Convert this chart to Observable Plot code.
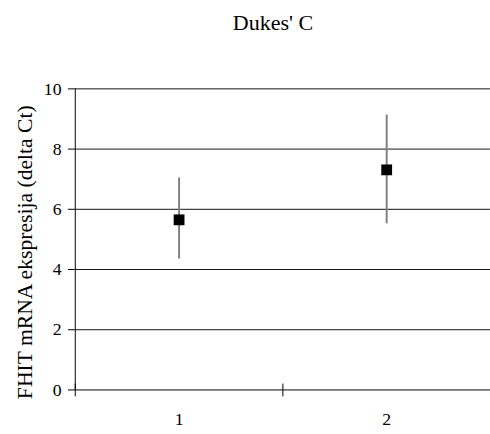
<!DOCTYPE html>
<html><head><meta charset="utf-8">
<script src="https://cdn.jsdelivr.net/npm/d3@7"></script>
<script src="https://cdn.jsdelivr.net/npm/@observablehq/plot@0.6"></script>
<style>
html,body{margin:0;padding:0;background:#fff;overflow:hidden;width:490px;height:434px}
#title{box-sizing:border-box;width:490px;height:50px;padding:12px 0 0 56px;text-align:center;font-family:"Liberation Serif",Tinos,"Times New Roman",Times,"DejaVu Serif",serif;font-size:22px;line-height:22px;color:#000}
#chart{width:490px;overflow:hidden}
</style></head><body>
<div id="title"></div>
<div id="chart"></div>
<script>
const title = "Dukes' C";
const yLabel = "FHIT mRNA ekspresija (delta Ct)";
const categories = [1, 2];
const means = [5.65, 7.31];
const lows = [4.35, 5.52];
const highs = [7.04, 9.13];
const yTicks = [0, 2, 4, 6, 8, 10];
const xTickLabels = ["1", "2"];

document.getElementById("title").textContent = title;

const data = categories.map((c, i) => ({cat: c, mean: means[i], low: lows[i], high: highs[i]}));
const xMin = categories[0] - 0.5;
const xMax = categories[categories.length - 1] + 0.5;
const bounds = [xMin, ...categories.slice(1).map(c => c - 0.5), xMax];
const serif = "Liberation Serif, Tinos, Times New Roman, Times, DejaVu Serif, serif";

const chart = Plot.plot({
  width: 498, height: 384,
  marginLeft: 76, marginRight: 0, marginTop: 39, marginBottom: 39,
  style: {fontFamily: serif, fontSize: "18px", color: "#000", background: "#fff"},
  x: {domain: [xMin, xMax], axis: null},
  y: {domain: [yTicks[0], yTicks[yTicks.length - 1]], axis: null},
  marks: [
    Plot.ruleY(yTicks.filter(d => d > 0), {stroke: "#111", strokeWidth: 1}),
    Plot.ruleY([yTicks[0]], {stroke: "#000"}),
    Plot.ruleX([xMin], {stroke: "#000"}),
    Plot.axisY({ticks: yTicks, label: null, tickSize: 7, tickPadding: 7, fontSize: 18, fontFamily: serif, stroke: "#000"}),
    Plot.axisX({ticks: categories, label: null, tickSize: 0, tickPadding: 23, fontSize: 18, fontFamily: serif, tickFormat: (d) => xTickLabels[categories.indexOf(d)]}),
    Plot.axisX({ticks: bounds, label: null, tickSize: 13, dy: -6, tickFormat: () => "", stroke: "#000"}),
    Plot.ruleX(data, {x: "cat", y1: "low", y2: "high", stroke: "#808080", strokeWidth: 2}),
    Plot.dot(data, {x: "cat", y: "mean", symbol: "square", r: 6.2, fill: "#000", stroke: null}),
    Plot.text([yLabel], {frameAnchor: "left", textAnchor: "middle", rotate: -90, dx: -51, dy: 13, fontSize: 22, fontFamily: serif, fill: "#000"})
  ]
});
document.getElementById("chart").appendChild(chart);
</script>
</body></html>
